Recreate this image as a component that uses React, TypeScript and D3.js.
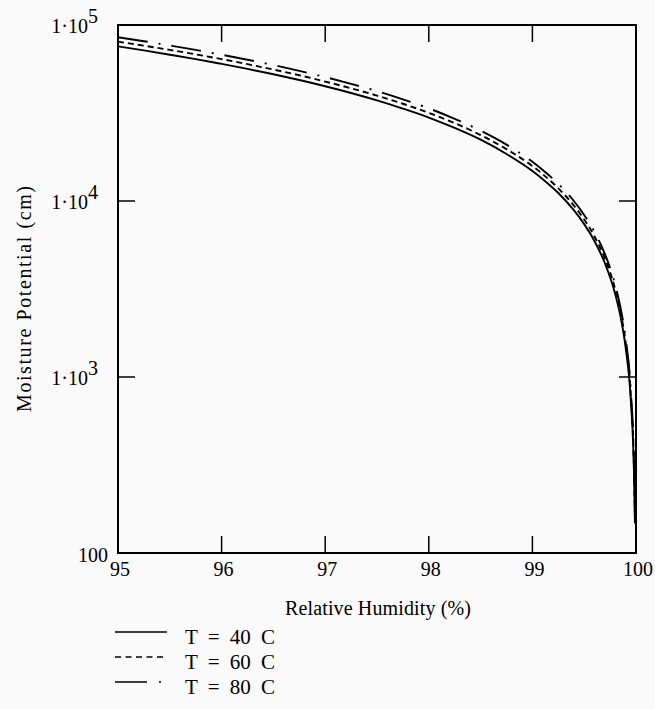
import * as d3 from "d3";

// Relative humidity (%) sample points
const rh = [
  95, 95.25, 95.5, 95.75, 96, 96.25, 96.5, 96.75, 97, 97.25, 97.5, 97.75, 98, 98.25, 98.5, 98.75,
  99, 99.1, 99.25, 99.4, 99.5, 99.6, 99.7, 99.8, 99.85, 99.9, 99.95, 99.98, 99.99,
];

// Moisture potential (cm)
const psi40 = [
  75600, 71700, 67800, 64000, 60100, 56300, 52500, 48700, 44900, 41100, 37300, 33500, 29800, 26000, 22300, 18500,
  14800, 13300, 11100, 8870, 7390, 5910, 4430, 2950, 2210, 1470, 737, 295, 147,
];
const psi60 = [
  80400, 76300, 72200, 68100, 64000, 59900, 55800, 51800, 47700, 43700, 39700, 35700, 31700, 27700, 23700, 19700,
  15800, 14200, 11800, 9430, 7860, 6280, 4710, 3140, 2350, 1570, 784, 313, 157,
];
const psi80 = [
  85200, 80900, 76500, 72200, 67800, 63500, 59200, 54900, 50600, 46300, 42100, 37800, 33600, 29300, 25100, 20900,
  16700, 15000, 12500, 10000, 8330, 6660, 4990, 3330, 2490, 1660, 831, 332, 166,
];

const series = [
  { label: "T = 40 C", values: psi40, dash: "none", legendDash: "none" },
  { label: "T = 60 C", values: psi60, dash: "6,4", legendDash: "6,4.5" },
  { label: "T = 80 C", values: psi80, dash: "30,11,2,11", legendDash: "32,12,2,20" },
];

const xTicks = [95, 96, 97, 98, 99, 100];
const yTicks = [1e5, 1e4, 1e3, 100];
const yTickLabels = [
  { base: "1·10", exp: "5" },
  { base: "1·10", exp: "4" },
  { base: "1·10", exp: "3" },
  { base: "100", exp: "" },
];

const W = 655;
const H = 709;
const left = 118, right = 636, top = 25, bottom = 553;
const font = "'Liberation Serif', 'DejaVu Serif', serif";

export default function App() {
  const x = d3.scaleLinear().domain([95, 100]).range([left, right]);
  const y = d3.scaleLog().domain([100, 1e5]).range([bottom, top]);

  const line = d3
    .line<number>()
    .x((_, i) => x(rh[i]))
    .y((d) => y(d))
    .curve(d3.curveMonotoneX);

  const tickLen = 17;

  return (
    <svg
      width={W}
      height={H}
      style={{ position: "absolute", left: 0, top: 0, background: "#fafafa", fontFamily: font }}
    >
      {/* curves */}
      {series.map((s) => (
        <path
          key={s.label}
          d={line(s.values) ?? ""}
          fill="none"
          stroke="#000"
          strokeWidth={1.9}
          strokeDasharray={s.dash}
        />
      ))}

      {/* frame */}
      <rect
        x={left}
        y={top}
        width={right - left}
        height={bottom - top}
        fill="none"
        stroke="#000"
        strokeWidth={2}
      />

      {/* x ticks, bottom and top, inward */}
      {xTicks.slice(1, -1).map((t) => (
        <g key={"xt" + t}>
          <line x1={x(t)} x2={x(t)} y1={bottom} y2={bottom - tickLen} stroke="#000" strokeWidth={1.5} />
          <line x1={x(t)} x2={x(t)} y1={top} y2={top + tickLen} stroke="#000" strokeWidth={1.5} />
        </g>
      ))}
      {xTicks.map((t) => (
        <text key={"xl" + t} x={x(t) + 2} y={bottom + 23} fontSize={20} textAnchor="middle">
          {t}
        </text>
      ))}

      {/* y ticks, left and right, inward */}
      {yTicks.slice(1, -1).map((t) => (
        <g key={"yt" + t}>
          <line x1={left} x2={left + tickLen} y1={y(t)} y2={y(t)} stroke="#000" strokeWidth={1.5} />
          <line x1={right} x2={right - tickLen} y1={y(t)} y2={y(t)} stroke="#000" strokeWidth={1.5} />
        </g>
      ))}
      {yTicks.map((t, i) => {
        const lab = yTickLabels[i];
        if (!lab.exp) {
          return (
            <text key={"yl" + t} x={left - 10} y={y(t) + 9} fontSize={20} textAnchor="end">
              {lab.base}
            </text>
          );
        }
        return (
          <text key={"yl" + t} x={left - 20} y={y(t) + 8} fontSize={20} textAnchor="end">
            {lab.base}
            <tspan dy={-10}>{lab.exp}</tspan>
          </text>
        );
      })}

      {/* axis titles */}
      <text
        x={(left + right) / 2 + 1}
        y={615}
        fontSize={20}
        textAnchor="middle"
        textLength={186}
        lengthAdjust="spacing"
      >
        Relative Humidity (%)
      </text>
      <text
        transform={`translate(31, ${(top + bottom) / 2 + 10}) rotate(-90)`}
        fontSize={20}
        textAnchor="middle"
        textLength={226}
        lengthAdjust="spacing"
      >
        Moisture Potential (cm)
      </text>

      {/* legend */}
      {series.map((s, i) => {
        const ly = 632 + i * 25;
        return (
          <g key={"lg" + s.label}>
            <line
              x1={115}
              x2={167}
              y1={ly}
              y2={ly}
              stroke="#000"
              strokeWidth={1.6}
              strokeDasharray={s.legendDash}
            />
            <text x={185} y={ly + 12} fontSize={21} wordSpacing={5}>
              {s.label}
            </text>
          </g>
        );
      })}
    </svg>
  );
}
